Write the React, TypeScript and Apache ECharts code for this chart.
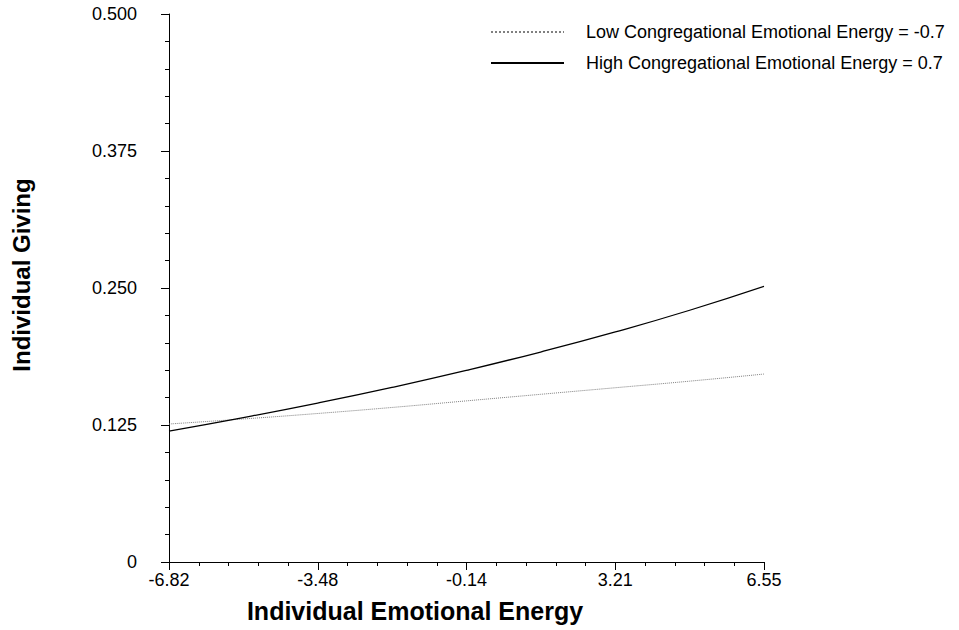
import React, { useEffect, useRef } from "react";
import * as echarts from "echarts";

const xTickLabels = ["-6.82", "-3.48", "-0.14", "3.21", "6.55"];
const yTickLabels = ["0", "0.125", "0.250", "0.375", "0.500"];
const xValues = [-6.82, -5.15, -3.48, -1.81, -0.14, 1.53, 3.21, 4.88, 6.55];
const lowValues = [0.1259, 0.1305, 0.1355, 0.141, 0.147, 0.153, 0.159, 0.165, 0.1715];
const highValues = [0.1195, 0.1318, 0.145, 0.1593, 0.1748, 0.1916, 0.2099, 0.2297, 0.2515];
const seriesNames = [
  "Low Congregational Emotional Energy = -0.7",
  "High Congregational Emotional Energy = 0.7",
];

const X_MIN = -6.82;
const X_STEP = (6.55 - -6.82) / 4;

const FONT = "Liberation Sans, Arial, sans-serif";

export default function App() {
  const ref = useRef<HTMLDivElement>(null);
  useEffect(() => {
    if (!ref.current) return;
    const chart = echarts.init(ref.current, undefined, { renderer: "svg" });
    const toT = (x: number) => (x - X_MIN) / X_STEP;
    chart.setOption({
      animation: false,
      textStyle: { fontFamily: FONT },
      grid: { left: 169, top: 14, right: 195, bottom: 68, outerBoundsMode: "none", containLabel: false },
      legend: {
        orient: "vertical",
        left: 490,
        top: 23,
        padding: 0,
        itemWidth: 73,
        itemHeight: 18,
        itemGap: 13,
        itemStyle: { opacity: 0 },
        textStyle: { fontSize: 18, color: "#000", fontFamily: FONT, padding: [0, 0, 0, 17] },
        data: seriesNames,
      },
      xAxis: {
        type: "value",
        min: 0,
        max: 4,
        interval: 1,
        name: "Individual Emotional Energy",
        nameLocation: "middle",
        nameGap: 36,
        nameMoveOverlap: false,
        nameTextStyle: {
          fontSize: 25,
          fontWeight: "bold",
          color: "#000",
          fontFamily: FONT,
          padding: [0, 103, 0, 0],
        },
        axisLine: { show: true, onZero: false, lineStyle: { color: "#000", width: 1 } },
        axisTick: { show: true, length: 8, lineStyle: { color: "#000" } },
        minorTick: { show: true, splitNumber: 5, length: 4, lineStyle: { color: "#000" } },
        splitLine: { show: false },
        axisLabel: {
          fontSize: 18,
          color: "#000",
          margin: 9,
          fontFamily: FONT,
          formatter: (v: number) => xTickLabels[Math.round(v)] ?? "",
        },
      },
      yAxis: {
        type: "value",
        min: 0,
        max: 0.5,
        interval: 0.125,
        name: "Individual Giving",
        nameLocation: "middle",
        nameGap: 136,
        nameRotate: 90,
        nameMoveOverlap: false,
        nameTextStyle: {
          fontSize: 24,
          fontWeight: "bold",
          color: "#000",
          fontFamily: FONT,
          padding: [0, 0, 0, 26],
        },
        axisLine: { show: true, lineStyle: { color: "#000", width: 1 } },
        axisTick: { show: true, length: 8, lineStyle: { color: "#000" } },
        minorTick: { show: true, splitNumber: 5, length: 4, lineStyle: { color: "#000" } },
        splitLine: { show: false },
        axisLabel: {
          fontSize: 18,
          color: "#000",
          margin: 32,
          fontFamily: FONT,
          formatter: (v: number) => yTickLabels[Math.round(v / 0.125)] ?? "",
        },
      },
      series: [
        {
          name: seriesNames[0],
          type: "line",
          smooth: true,
          showSymbol: false,
          symbol: "none",
          lineStyle: { color: "#808080", width: 1, type: "dotted" },
          itemStyle: { color: "#808080" },
          data: xValues.map((x, i) => [toT(x), lowValues[i]]),
        },
        {
          name: seriesNames[1],
          type: "line",
          smooth: true,
          showSymbol: false,
          symbol: "none",
          lineStyle: { color: "#000", width: 1.3 },
          itemStyle: { color: "#000" },
          data: xValues.map((x, i) => [toT(x), highValues[i]]),
        },
      ],
    });
    return () => chart.dispose();
  }, []);
  return <div ref={ref} style={{ width: 959, height: 630, position: "absolute", left: 0, top: 0, background: "#fff" }} />;
}
